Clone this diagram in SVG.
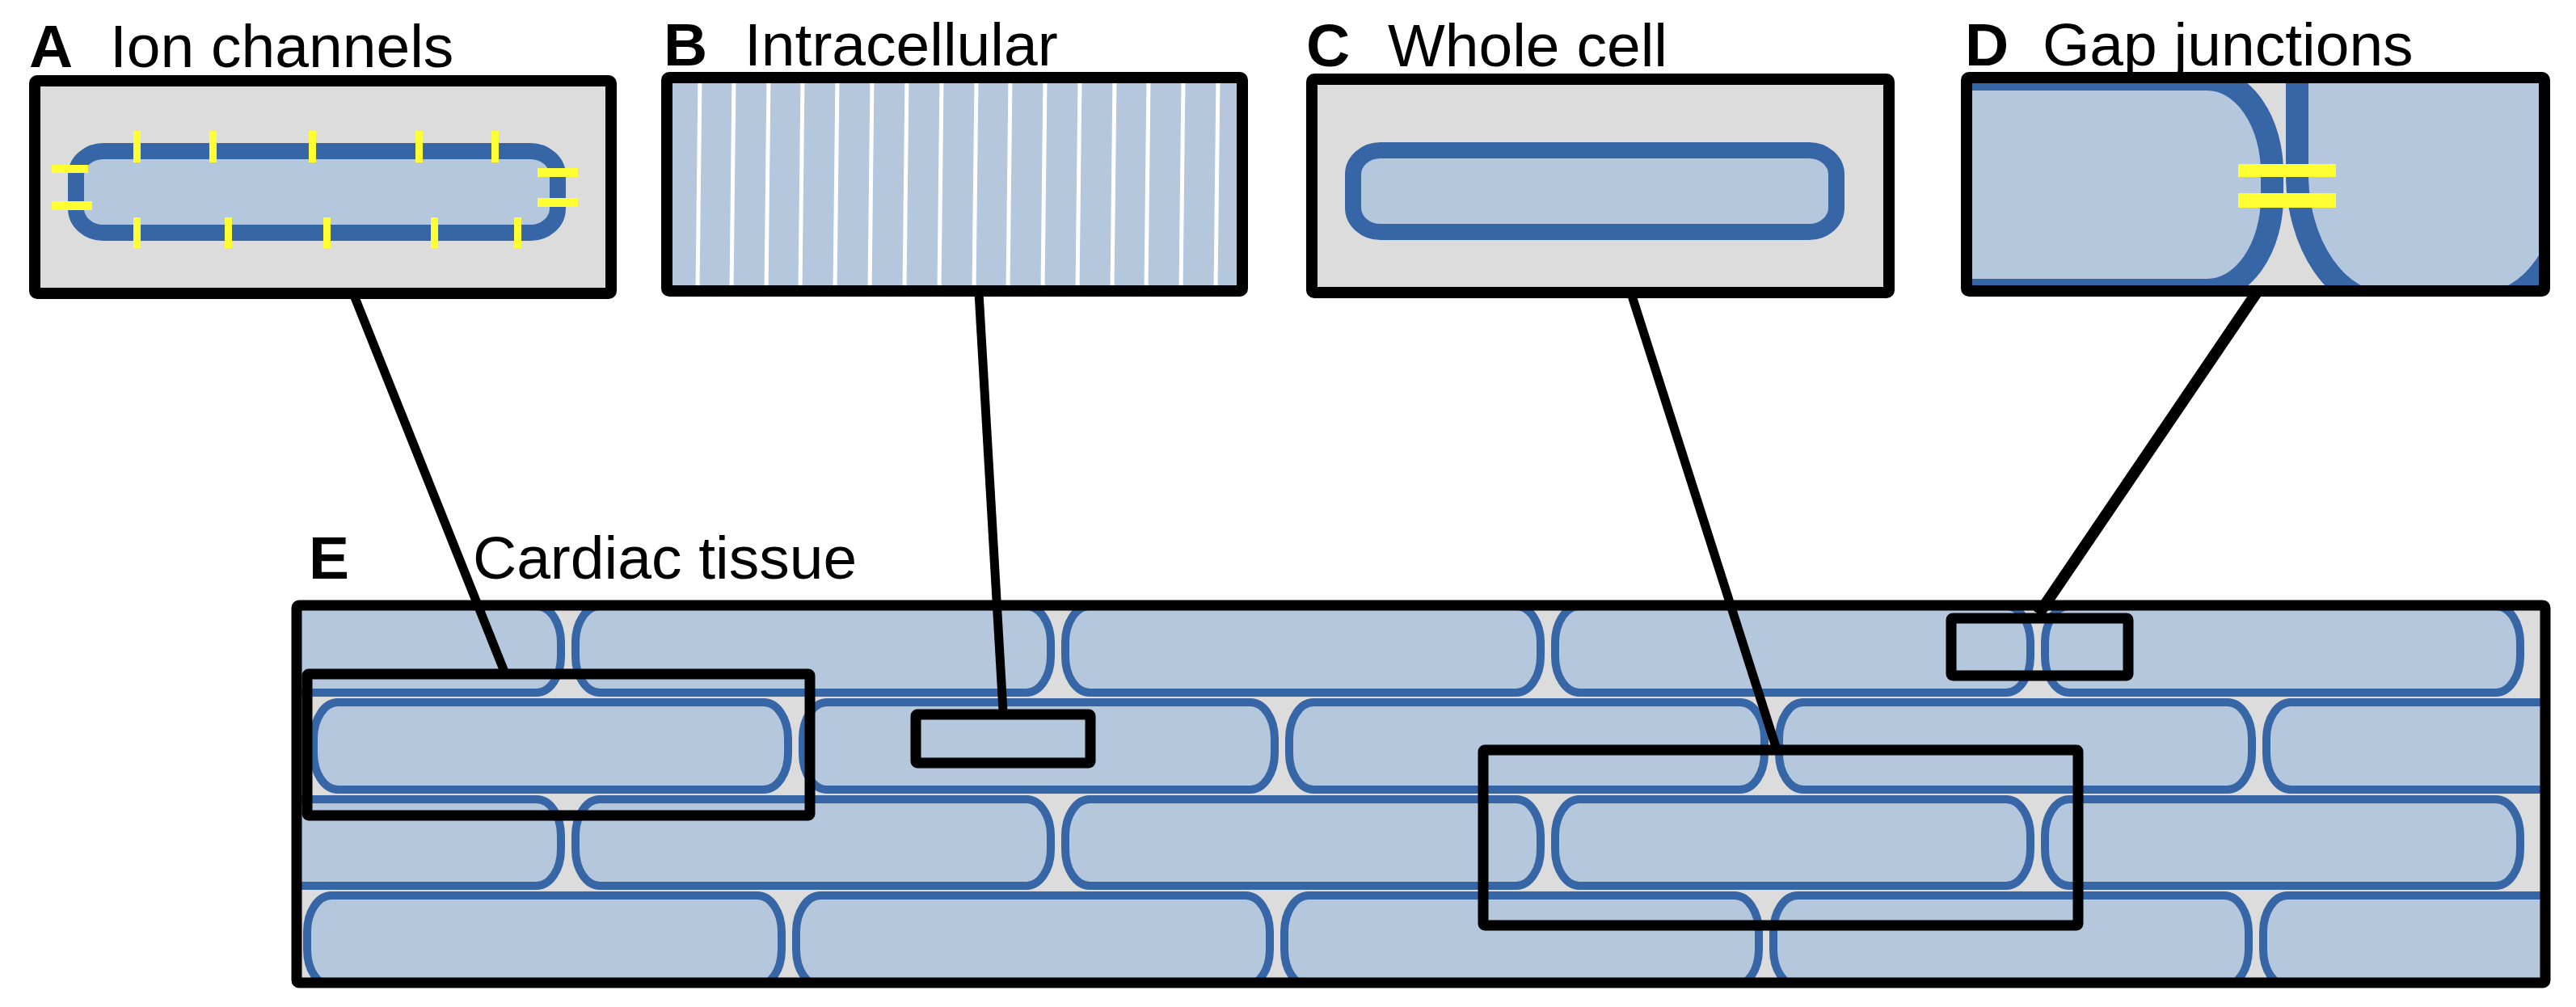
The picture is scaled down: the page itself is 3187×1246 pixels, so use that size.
<svg xmlns="http://www.w3.org/2000/svg" width="3187" height="1246" viewBox="0 0 3187 1246">
<style>
.t{font-family:"Liberation Sans",Arial,sans-serif;font-size:75px;fill:#000}
.b{font-weight:bold}
.frame{fill:none;stroke:#000;stroke-width:14}
.bg{fill:#dcdcdc}
.cell{fill:#b5c7dd;stroke:#3666a6;stroke-width:10}
.bigcell{fill:#b5c7dd;stroke:#3666a6;stroke-width:20}
.gj{fill:#b5c7dd;stroke:#3666a6;stroke-width:28}
.yt{fill:#ffff33}
.stripe{stroke:#fff;stroke-width:5}
.con{stroke:#000;stroke-width:11;fill:none}
.zr{fill:none;stroke:#000;stroke-width:13}
</style>
<defs>
<clipPath id="cE"><rect x="367" y="749" width="2782" height="467"/></clipPath>
<clipPath id="cD"><rect x="2433" y="96" width="715" height="264"/></clipPath>
</defs>
<rect width="3187" height="1246" fill="#fff"/>

<g id="A">
<rect class="bg" x="43" y="100" width="713" height="263"/>
<rect class="bigcell" x="94" y="187" width="596" height="101" rx="34" ry="30"/>
<g class="yt">
<rect x="165" y="162" width="9" height="39"/><rect x="259" y="162" width="9" height="39"/><rect x="382" y="162" width="9" height="39"/><rect x="514" y="162" width="9" height="39"/><rect x="608" y="162" width="9" height="39"/>
<rect x="165" y="269" width="9" height="38"/><rect x="278" y="269" width="9" height="38"/><rect x="400" y="269" width="9" height="38"/><rect x="533" y="269" width="9" height="38"/><rect x="636" y="269" width="9" height="38"/>
<rect x="64" y="204" width="45" height="10"/><rect x="64" y="249" width="50" height="11"/>
<rect x="665" y="208" width="50" height="11"/><rect x="665" y="245" width="50" height="11"/>
</g>
<rect class="frame" x="43" y="100" width="713" height="263" rx="3"/>
<text class="t b" x="36" y="83">A</text><text class="t" x="136" y="83">Ion channels</text>
</g>

<g id="B">
<rect x="825" y="96" width="712" height="264" fill="#b5c7dd"/>
<g class="stripe">
<line x1="866" y1="96" x2="863" y2="360"/><line x1="908" y1="96" x2="905" y2="360"/><line x1="951" y1="96" x2="948" y2="360"/><line x1="993" y1="96" x2="990" y2="360"/><line x1="1036" y1="96" x2="1033" y2="360"/><line x1="1079" y1="96" x2="1076" y2="360"/><line x1="1122" y1="96" x2="1119" y2="360"/><line x1="1165" y1="96" x2="1162" y2="360"/><line x1="1208" y1="96" x2="1205" y2="360"/><line x1="1250" y1="96" x2="1247" y2="360"/><line x1="1293" y1="96" x2="1290" y2="360"/><line x1="1336" y1="96" x2="1333" y2="360"/><line x1="1379" y1="96" x2="1376" y2="360"/><line x1="1421" y1="96" x2="1418" y2="360"/><line x1="1464" y1="96" x2="1461" y2="360"/><line x1="1507" y1="96" x2="1504" y2="360"/>
</g>
<rect class="frame" x="825" y="96" width="712" height="264" rx="3"/>
<text class="t b" x="821" y="81">B</text><text class="t" x="921" y="81">Intracellular</text>
</g>

<g id="C">
<rect class="bg" x="1623" y="98" width="714" height="264"/>
<rect class="bigcell" x="1674" y="186" width="598" height="101" rx="34" ry="30"/>
<rect class="frame" x="1623" y="98" width="714" height="264" rx="3"/>
<text class="t b" x="1616" y="82">C</text><text class="t" x="1717" y="82">Whole cell</text>
</g>

<g id="D">
<rect class="bg" x="2433" y="96" width="715" height="264"/>
<g clip-path="url(#cD)">
<rect class="gj" x="2300" y="98" width="511" height="261" rx="80" ry="115"/>
<rect class="gj" x="2842" y="-60" width="340" height="435" rx="110" ry="160"/>
</g>
<rect class="yt" x="2769" y="203" width="121" height="16"/>
<rect class="yt" x="2769" y="239" width="121" height="18"/>
<rect class="frame" x="2433" y="96" width="715" height="264" rx="3"/>
<text class="t b" x="2431" y="81">D</text><text class="t" x="2527" y="81">Gap junctions</text>
</g>

<g id="E">
<rect class="bg" x="367" y="749" width="2782" height="467"/>
<g clip-path="url(#cE)">
<g id="row1">
<rect class="cell" x="100" y="750" width="594" height="107" rx="30" ry="45"/>
<rect class="cell" x="712" y="750" width="588" height="107" rx="30" ry="45"/>
<rect class="cell" x="1318" y="750" width="588" height="107" rx="30" ry="45"/>
<rect class="cell" x="1924" y="750" width="588" height="107" rx="30" ry="45"/>
<rect class="cell" x="2530" y="750" width="588" height="107" rx="30" ry="45"/>
</g>
<g id="row2">
<rect class="cell" x="388" y="869" width="587" height="108" rx="30" ry="45"/>
<rect class="cell" x="993" y="869" width="584" height="108" rx="30" ry="45"/>
<rect class="cell" x="1595" y="869" width="588" height="108" rx="30" ry="45"/>
<rect class="cell" x="2201" y="869" width="585" height="108" rx="30" ry="45"/>
<rect class="cell" x="2804" y="869" width="588" height="108" rx="30" ry="45"/>
</g>
<g id="row3">
<rect class="cell" x="100" y="989" width="594" height="107" rx="30" ry="45"/>
<rect class="cell" x="712" y="989" width="588" height="107" rx="30" ry="45"/>
<rect class="cell" x="1318" y="989" width="588" height="107" rx="30" ry="45"/>
<rect class="cell" x="1924" y="989" width="588" height="107" rx="30" ry="45"/>
<rect class="cell" x="2530" y="989" width="588" height="107" rx="30" ry="45"/>
</g>
<g id="row4">
<rect class="cell" x="380" y="1108" width="587" height="112" rx="30" ry="45"/>
<rect class="cell" x="985" y="1108" width="586" height="112" rx="30" ry="45"/>
<rect class="cell" x="1589" y="1108" width="587" height="112" rx="30" ry="45"/>
<rect class="cell" x="2194" y="1108" width="588" height="112" rx="30" ry="45"/>
<rect class="cell" x="2800" y="1108" width="588" height="112" rx="30" ry="45"/>
</g>
</g>
<rect class="frame" x="367" y="749" width="2782" height="467" rx="3" style="stroke-width:13"/>
<text class="t b" x="382" y="716">E</text><text class="t" x="585" y="716">Cardiac tissue</text>
</g>

<g id="zoomA"><rect class="zr" x="380" y="834" width="622" height="175" rx="2"/></g>
<g id="zoomB"><rect class="zr" x="1133" y="884" width="216" height="60" rx="2"/></g>
<g id="zoomC"><rect class="zr" x="1835" y="928" width="736" height="217" rx="2"/></g>
<g id="zoomD"><rect class="zr" x="2414" y="765" width="219" height="71" rx="2"/></g>

<g id="connectors">
<line class="con" x1="439" y1="368" x2="624" y2="831"/>
<line class="con" x1="1211" y1="362" x2="1241" y2="880"/>
<line class="con" x1="2019" y1="366" x2="2197" y2="924"/>
<line class="con" x1="2792" y1="362" x2="2522" y2="760" style="stroke-width:14"/>
</g>
</svg>
